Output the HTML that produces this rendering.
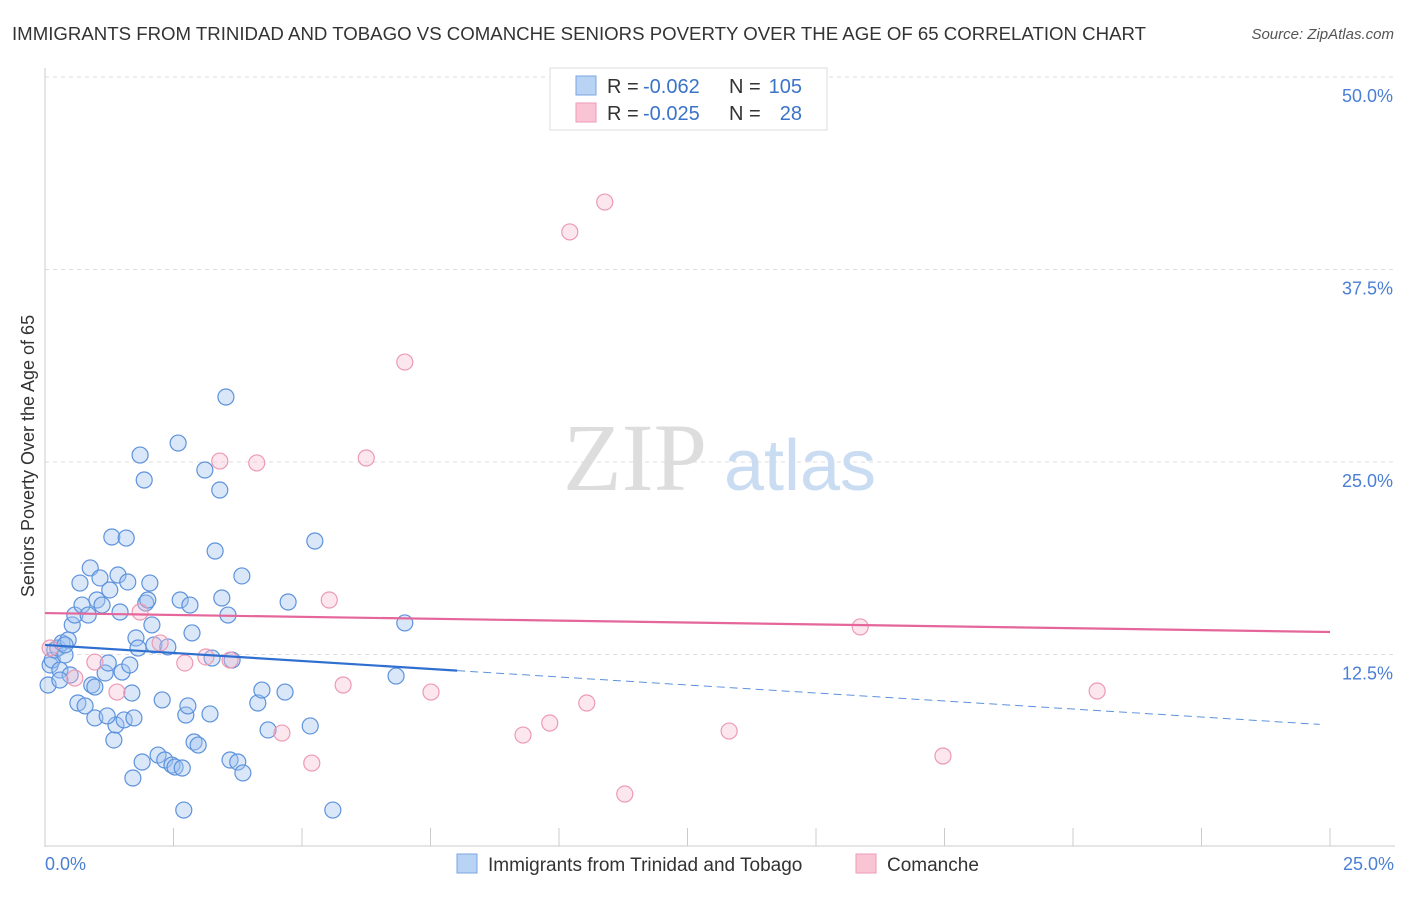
<!DOCTYPE html>
<html><head><meta charset="utf-8"><style>
body{margin:0;background:#fff;font-family:"Liberation Sans",sans-serif;}
svg text{font-family:"Liberation Sans",sans-serif;}
</style></head><body>
<svg width="1406" height="892" xmlns="http://www.w3.org/2000/svg">
<text x="12" y="40" font-size="18" fill="#333" textLength="1134" lengthAdjust="spacingAndGlyphs">IMMIGRANTS FROM TRINIDAD AND TOBAGO VS COMANCHE SENIORS POVERTY OVER THE AGE OF 65 CORRELATION CHART</text>
<text x="1394" y="39" font-size="15" fill="#555" font-style="italic" text-anchor="end">Source: ZipAtlas.com</text>
<g id="grid"></g>
<g><text x="635" y="490" font-size="96" fill="#ddd" text-anchor="middle" style="font-family:'Liberation Serif',serif">ZIP</text><text x="800" y="490" font-size="72" fill="#c9dcf2" text-anchor="middle">atlas</text></g>
<line x1="45" y1="68" x2="45" y2="847" stroke="#ccc"/>
<line x1="45" y1="846" x2="1395" y2="846" stroke="#ccc"/>
<g id="xticks"></g>
<text x="45" y="870" font-size="18" fill="#4a7fd4">0.0%</text>
<text x="1394" y="870" font-size="18" fill="#4a7fd4" text-anchor="end">25.0%</text>
<text transform="translate(34,456) rotate(-90)" font-size="18" fill="#333" text-anchor="middle">Seniors Poverty Over the Age of 65</text>
<g id="pts"></g>
<g id="trend"></g>
<g>
<rect x="550" y="68" width="277" height="62" fill="#fff" stroke="#ddd"/>
<rect x="576" y="76" width="20" height="19" fill="#b8d3f4" stroke="#7aa6e0"/>
<rect x="576" y="103" width="20" height="19" fill="#f9c5d4" stroke="#ef9ab5"/>
<text x="607" y="93" font-size="20" fill="#333">R =</text>
<text x="643" y="93" font-size="20" fill="#3a73c8">-0.062</text>
<text x="729" y="93" font-size="20" fill="#333">N =</text>
<text x="802" y="93" font-size="20" fill="#3a73c8" text-anchor="end">105</text>
<text x="607" y="120" font-size="20" fill="#333">R =</text>
<text x="643" y="120" font-size="20" fill="#3a73c8">-0.025</text>
<text x="729" y="120" font-size="20" fill="#333">N =</text>
<text x="802" y="120" font-size="20" fill="#3a73c8" text-anchor="end">28</text>
</g>
<g>
<rect x="457" y="854" width="20" height="19" fill="#b8d3f4" stroke="#7aa6e0"/>
<text x="488" y="871" font-size="19" fill="#333">Immigrants from Trinidad and Tobago</text>
<rect x="856" y="854" width="20" height="19" fill="#f9c5d4" stroke="#ef9ab5"/>
<text x="887" y="871" font-size="19" fill="#333">Comanche</text>
</g>
</svg>
<script>
const yTicks=[12.5,25,37.5,50];
const yTickLabels=["12.5%","25.0%","37.5%","50.0%"];
const xTicks=[0,2.5,5,7.5,10,12.5,15,17.5,20,22.5,25];
const blueX=[0.06,0.10,0.14,0.19,0.25,0.29,0.33,0.39,0.45,0.49,0.53,0.58,0.64,0.68,0.72,0.78,0.84,0.88,0.91,0.97,1.01,1.07,1.11,1.17,1.23,1.26,1.30,1.34,1.38,1.42,1.46,1.50,1.54,1.58,1.61,1.65,1.69,1.73,1.77,1.81,1.85,1.89,1.93,1.96,2.00,2.04,2.08,2.12,2.20,2.28,2.33,2.39,2.47,2.53,2.59,2.63,2.67,2.70,2.74,2.78,2.82,2.86,2.90,2.98,3.11,3.21,3.25,3.31,3.40,3.44,3.52,3.56,3.60,3.64,3.75,3.83,3.85,4.14,4.22,4.34,4.67,4.73,5.16,5.25,5.60,6.83,7.00,1.71,1.21,0.97,0.29,0.39];
const blueY=[10.52,11.82,12.14,12.79,12.92,11.49,13.25,12.47,13.44,11.17,14.42,15.06,9.35,17.14,15.71,9.16,15.06,18.12,10.52,8.38,16.04,17.47,15.71,11.30,11.95,16.69,20.13,6.95,7.92,17.66,15.26,11.36,8.25,20.06,17.21,11.82,10.00,8.38,13.57,12.92,25.45,5.52,23.83,15.84,16.04,17.14,14.42,13.12,5.97,9.55,5.65,12.99,5.32,5.19,26.23,16.04,5.13,2.40,8.57,9.16,15.71,13.90,6.82,6.62,24.48,8.64,12.27,19.22,23.18,16.17,29.22,15.06,5.65,12.14,5.52,17.60,4.81,9.35,10.19,7.60,10.06,15.91,7.86,19.87,2.40,11.10,14.55,4.48,8.51,10.39,10.84,13.12];
const pinkX=[10.89,10.21,7.00,6.25,4.12,3.40,5.53,15.86,20.47,7.51,5.80,10.54,9.82,9.30,13.31,17.47,4.61,5.19,11.28,3.60,3.13,2.72,1.85,2.24,1.40,0.97,0.58,0.10];
const pinkY=[41.88,39.94,31.49,25.26,24.94,25.06,16.04,14.29,10.13,10.06,10.52,9.35,8.05,7.27,7.53,5.91,7.40,5.45,3.44,12.14,12.34,11.95,15.26,13.25,10.06,12.01,10.97,12.92];
const blueTrend=[13.12,7.92,8.02];
const pinkTrend=[15.19,13.96];
const NS="http://www.w3.org/2000/svg";
const sx=v=>45+v/25*1285, sy=v=>847-v/12.5*192.5;
function mk(t,a,p){const e=document.createElementNS(NS,t);for(const k in a)e.setAttribute(k,a[k]);p.appendChild(e);return e;}
const grid=document.getElementById('grid');
yTicks.forEach((v,i)=>{
 const l=mk('line',{x1:45,x2:1395,y1:sy(v),y2:sy(v),stroke:'#ddd','stroke-dasharray':'4,4'},grid);
 
 
 const t=mk('text',{x:1393,y:sy(v)+25,'font-size':18,fill:'#4a7fd4','text-anchor':'end'},grid);
 t.textContent=yTickLabels[i];
 
 
});
const xt=document.getElementById('xticks');
xTicks.forEach(v=>{
 const l=mk('line',{x1:sx(v),x2:sx(v),y1:828,y2:846,stroke:'#ccc'},xt);
 
 
});
const pts=document.getElementById('pts');
blueX.forEach((x,i)=>{
 const c=mk('circle',{cx:sx(x),cy:sy(blueY[i]),r:8,fill:'rgba(160,196,240,0.4)',stroke:'#5d92dc','stroke-width':1.2},pts);
 
 
});
pinkX.forEach((x,i)=>{
 const c=mk('circle',{cx:sx(x),cy:sy(pinkY[i]),r:8,fill:'rgba(248,185,205,0.35)',stroke:'#ec9ab4','stroke-width':1.2},pts);
 
 
});
const tr=document.getElementById('trend');
const by=x=>blueTrend[0]+(blueTrend[1]-blueTrend[0])*x/25;
let a=mk('line',{x1:sx(0),y1:sy(by(0)),x2:sx(blueTrend[2]),y2:sy(by(blueTrend[2])),stroke:'#2f6fd0','stroke-width':2.2},tr);


a=mk('line',{x1:sx(blueTrend[2]),y1:sy(by(blueTrend[2])),x2:sx(24.8),y2:sy(by(24.8)),stroke:'#5d92dc','stroke-width':1,'stroke-dasharray':'8,5'},tr);


a=mk('line',{x1:sx(0),y1:sy(pinkTrend[0]),x2:sx(25),y2:sy(pinkTrend[1]),stroke:'#e5669a','stroke-width':2.2},tr);


</script>
</body></html>
